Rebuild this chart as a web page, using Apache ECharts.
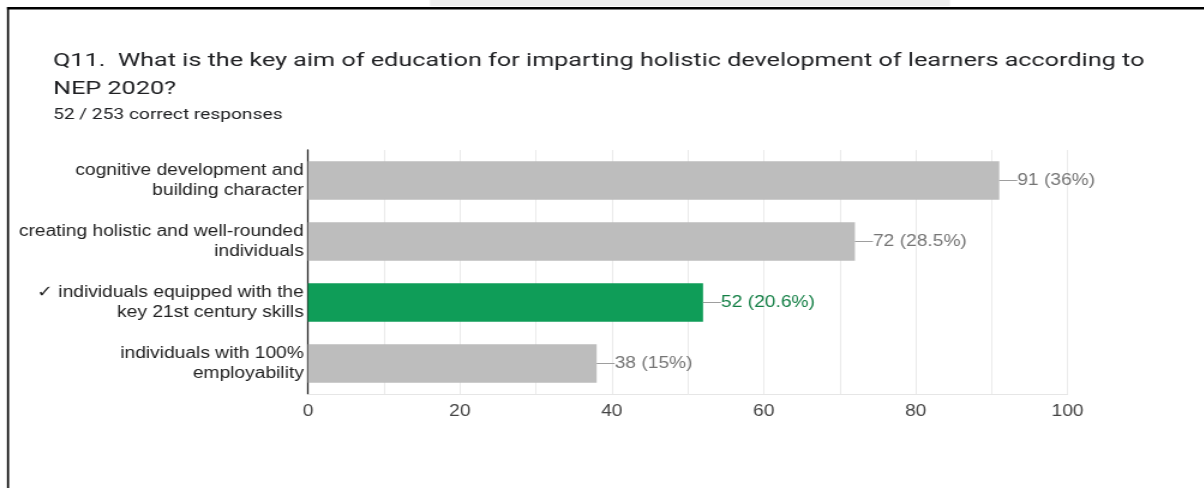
<!DOCTYPE html>
<html>
<head>
<meta charset="utf-8">
<script src="https://cdn.jsdelivr.net/npm/echarts@6/dist/echarts.min.js"></script>
<style>
  html, body { margin: 0; padding: 0; background: #fff; overflow: hidden; }
  /* the card is laid out narrower and widened horizontally */
  #chart { width: 1003.33px; height: 488px; transform: scaleX(1.2); transform-origin: 0 0; }
</style>
</head>
<body>
<div id="chart"></div>
<script>
// Answer options, top to bottom
const categories = [
  'cognitive development and\nbuilding character',
  'creating holistic and well-rounded\nindividuals',
  '\u2713 individuals equipped with the\nkey 21st century skills',
  'individuals with 100%\nemployability'
];
// Number of responses per option and the share of all responses
const counts = [91, 72, 52, 38];
const percents = ['36%', '28.5%', '20.6%', '15%'];
// Index of the correct answer
const correctIndex = 2;
const xTicks = [0, 20, 40, 60, 80, 100];

const titleLines = [
  'Q11.  What is the key aim of education for imparting holistic development of learners according to',
  'NEP 2020?'
];
const subText = '52 / 253 correct responses';

const SX = 1.2;               // horizontal widening of the whole card
const px = v => v / SX;       // screen x -> layout x

const GRAY_BAR = '#bdbdbd';
const GREEN_BAR = '#0f9d58';
const GRAY_TEXT = '#757575';
const GREEN_TEXT = '#137f45';
const LABEL_FONT = 'Arial, "Liberation Sans", "DejaVu Sans", sans-serif';
const HEAD_FONT = 'Roboto, Arial, sans-serif';

const chart = echarts.init(document.getElementById('chart'), null, { renderer: 'canvas' });

const barData = counts.map((v, i) => {
  const ok = i === correctIndex;
  return {
    value: v,
    itemStyle: { color: ok ? GREEN_BAR : GRAY_BAR },
    label: {
      formatter: '{ln|}{v|' + v + ' (' + percents[i] + ')}',
      rich: {
        ln: { width: 15, height: 1, backgroundColor: '#9e9e9e', verticalAlign: 'middle' },
        v: { color: ok ? GREEN_TEXT : GRAY_TEXT, fontSize: 16, fontFamily: LABEL_FONT }
      }
    }
  };
});

// heading drawn as text lines
const heading = [
  { t: titleLines[0], y: 61, size: 19, sx: 1.105 },
  { t: titleLines[1], y: 89, size: 19, sx: 1.105 },
  { t: subText, y: 115, size: 14, sx: 1.14 }
].map(h => ({
  type: 'text',
  x: px(53),
  y: h.y,
  scaleX: h.sx,
  silent: true,
  style: {
    text: h.t,
    fill: '#202124',
    font: h.size + 'px ' + HEAD_FONT,
    verticalAlign: 'middle',
    align: 'left'
  }
}));

chart.setOption({
  animation: false,
  backgroundColor: '#ffffff',
  grid: { left: px(308), right: 1003.33 - px(1068), top: 150, bottom: 94, containLabel: false },
  xAxis: {
    type: 'value',
    min: xTicks[0],
    max: xTicks[xTicks.length - 1],
    interval: 20,
    axisLine: { show: true, lineStyle: { color: '#e6e6e6', width: 1 } },
    axisTick: { show: false },
    axisLabel: {
      color: '#444444',
      fontSize: 16,
      fontFamily: LABEL_FONT,
      margin: 10
    },
    splitLine: { show: true, lineStyle: { color: '#ebebeb', width: 1 } },
    minorTick: { show: false, splitNumber: 2 },
    minorSplitLine: { show: true, lineStyle: { color: '#ebebeb', width: 1 } }
  },
  yAxis: {
    type: 'category',
    data: categories,
    inverse: true,
    axisLine: { show: true, lineStyle: { color: '#222222', width: 1.3 } },
    axisTick: { show: false },
    axisLabel: {
      color: '#222222',
      fontSize: 16,
      lineHeight: 20,
      fontFamily: LABEL_FONT,
      margin: 3.5,
      align: 'right'
    },
    splitLine: { show: false }
  },
  series: [{
    type: 'bar',
    data: barData,
    barCategoryGap: '37%',
    label: { show: true, position: 'right', distance: 0 },
    silent: true
  }],
  graphic: [
    // faint band above the card edge
    { type: 'rect', x: px(430), y: 0, shape: { width: px(520), height: 6 }, style: { fill: '#eeeeee' }, silent: true },
    // card edges
    { type: 'rect', x: px(7), y: 7, shape: { width: 1003.33, height: 2.5 }, style: { fill: '#000' }, silent: true },
    { type: 'rect', x: px(7), y: 7, shape: { width: px(2), height: 481 }, style: { fill: '#000' }, silent: true }
  ].concat(heading)
});
</script>
</body>
</html>
